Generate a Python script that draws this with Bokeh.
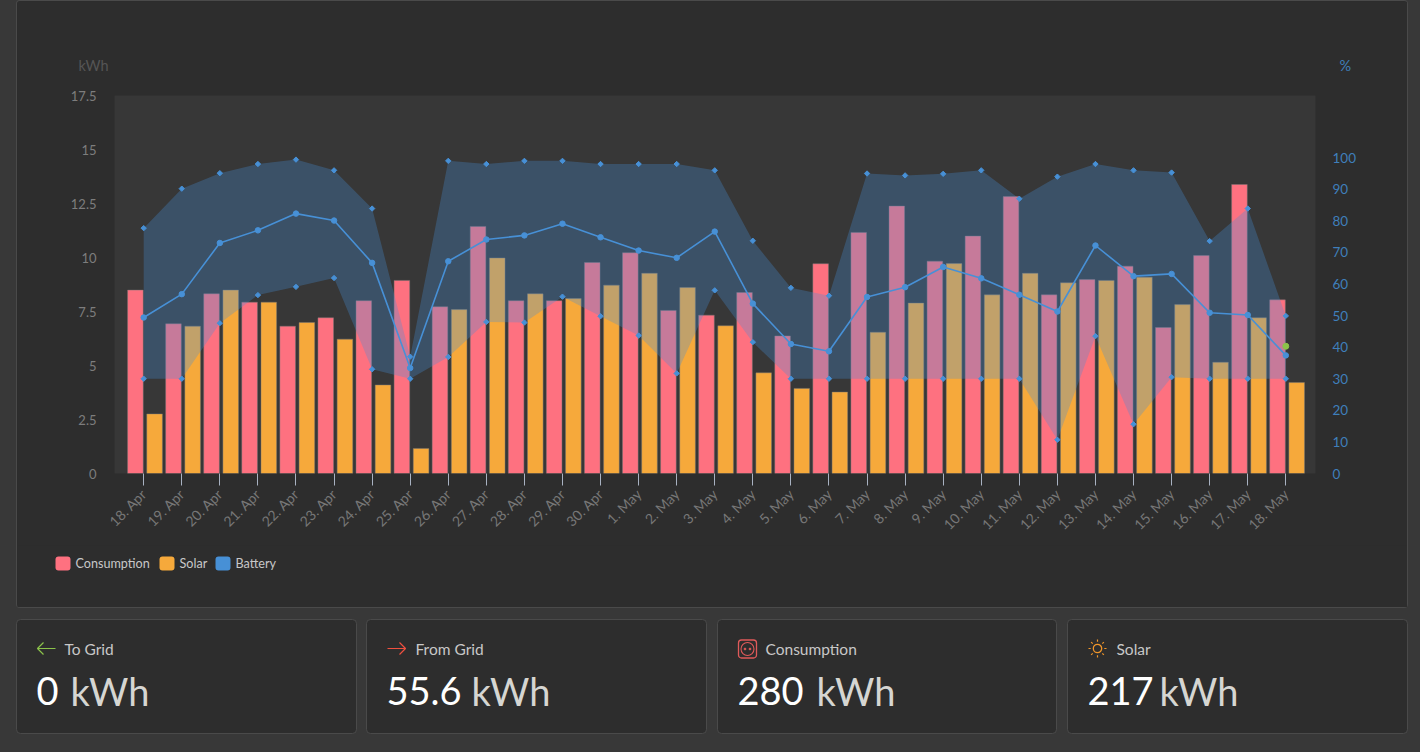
from bokeh.plotting import figure
from bokeh.embed import file_html
from bokeh.resources import INLINE
from bokeh.core.properties import value
from bokeh.layouts import column
from bokeh.models import (ColumnDataSource, Range1d, LinearAxis, FixedTicker, Label)
from bokeh.transform import dodge
import math

days = ["18. Apr", "19. Apr", "20. Apr", "21. Apr", "22. Apr", "23. Apr", "24. Apr", "25. Apr", "26. Apr",
        "27. Apr", "28. Apr", "29. Apr", "30. Apr", "1. May", "2. May", "3. May", "4. May", "5. May", "6. May",
        "7. May", "8. May", "9. May", "10. May", "11. May", "12. May", "13. May", "14. May", "15. May",
        "16. May", "17. May", "18. May"]
consumption = [8.49, 6.93, 8.32, 7.93, 6.82, 7.21, 8.0, 8.94, 7.72, 11.44, 8.0, 8.0, 9.77, 10.22, 7.55, 7.33,
               8.38, 6.37, 9.71, 11.16, 12.38, 9.83, 10.99, 12.82, 8.27, 8.98, 9.6, 6.76, 10.09, 13.38, 8.04]
solar = [2.76, 6.82, 8.49, 7.93, 6.99, 6.22, 4.1, 1.16, 7.59, 9.98, 8.32, 8.1, 8.72, 9.27, 8.61, 6.84,
         4.66, 3.94, 3.77, 6.54, 7.89, 9.72, 8.27, 9.27, 8.83, 8.94, 9.09, 7.82, 5.15, 7.21, 4.21]
battery_max = [77.7, 90.2, 95.1, 98, 99.4, 96, 83.9, 37, 99, 98, 99, 99, 98, 98, 98, 96, 73.7, 58.8, 56.3,
               95, 94.4, 94.9, 96, 87, 94, 98, 96, 95.3, 73.6, 83.9, 49.9]
battery_min = [30, 30, 47.6, 56.5, 59.1, 61.9, 33, 30, 36.9, 48, 47.8, 56, 49.8, 43.7, 31.7, 58, 41.6, 30, 30,
               30, 30, 30, 30, 30, 10.7, 43.5, 15.6, 30.5, 30, 30, 30]
battery_avg = [49.4, 56.8, 73, 77, 82.3, 80.1, 66.7, 33.4, 67.2, 74.1, 75.4, 79.1, 74.8, 70.6, 68.3, 76.6,
               53.8, 41, 38.7, 55.9, 59, 65.4, 61.8, 56.6, 51.3, 72.2, 62.5, 63.2, 50.9, 50.2, 37.4]
current_soc = [40.3]
kwh_ticks = [0, 2.5, 5, 7.5, 10, 12.5, 15, 17.5]
kwh_labels = ["0", "2.5", "5", "7.5", "10", "12.5", "15", "17.5"]
pct_ticks = [0, 10, 20, 30, 40, 50, 60, 70, 80, 90, 100]
legend_names = ["Consumption", "Solar", "Battery"]

cards = [("To Grid", "0", "kWh"), ("From Grid", "55.6", "kWh"), ("Consumption", "280", "kWh"), ("Solar", "217", "kWh")]

PAGE = "#383838"
PANEL = "#2d2d2d"
EDGE = "#4a4a4a"
FRAME = "#373737"
RED = "#fe7180"
ORANGE = "#f6a93b"
BLUE = "#4790d6"
FONT = "Lato"

idx = list(range(len(days)))
src = ColumnDataSource(dict(i=idx, con=consumption, sol=solar, hi=battery_max, lo=battery_min, avg=battery_avg))

p = figure(width=1390, height=544, output_backend="svg", toolbar_location=None,
           x_range=Range1d(-0.767, 30.78), y_range=Range1d(0, 17.5),
           min_border_left=97, min_border_right=92, min_border_top=94, min_border_bottom=72,
           background_fill_color=FRAME, border_fill_color=PANEL, outline_line_color=None,
           frame_align=False)
p.grid.visible = False
p.extra_y_ranges["pct"] = Range1d(0, 119.7)

xa = p.xaxis[0]
xa.ticker = FixedTicker(ticks=idx)
xa.major_label_overrides = {i: d for i, d in zip(idx, days)}
xa.major_label_orientation = math.pi / 4
xa.major_label_text_color = "#777777"
xa.major_label_text_font = FONT
xa.major_label_text_font_size = "14px"
xa.major_label_standoff = 6
xa.major_tick_out = 12
xa.major_tick_in = 0
xa.major_tick_line_color = "#a9b2c2"
xa.minor_tick_line_color = None
xa.axis_line_color = None

ya = p.yaxis[0]
ya.ticker = FixedTicker(ticks=kwh_ticks)
ya.major_label_overrides = {t: s for t, s in zip(kwh_ticks, kwh_labels)}
ya.major_label_text_color = "#7d7d7d"
ya.major_label_text_font = FONT
ya.major_label_text_font_size = "13px"
ya.major_label_standoff = 18
ya.major_tick_out = 0
ya.major_tick_in = 0
ya.major_tick_line_color = None
ya.minor_tick_line_color = None
ya.axis_line_color = None

ra = LinearAxis(y_range_name="pct", ticker=FixedTicker(ticks=pct_ticks))
ra.major_label_text_color = "#3f7fbb"
ra.major_label_text_font = FONT
ra.major_label_text_font_size = "13.5px"
ra.major_label_text_align = "center"
ra.major_label_standoff = 17
ra.major_tick_out = 0
ra.major_tick_in = 0
ra.major_tick_line_color = None
ra.minor_tick_line_color = None
ra.axis_line_color = None
p.add_layout(ra, "right")

bar_w = 0.41
p.vbar(x=dodge("i", -0.218, range=p.x_range), top="con", width=bar_w, source=src,
       fill_color=RED, line_color="#777777", line_alpha=0.45)
p.vbar(x=dodge("i", 0.286, range=p.x_range), top="sol", width=bar_w, source=src,
       fill_color=ORANGE, line_color="#777777", line_alpha=0.45)
p.varea(x="i", y1="lo", y2="hi", source=src, y_range_name="pct", fill_color=BLUE, fill_alpha=0.3)
p.line(x="i", y="avg", source=src, y_range_name="pct", line_color=BLUE, line_width=1.6)
p.scatter(x="i", y="hi", source=src, y_range_name="pct", marker="square", angle=math.pi / 4, size=3.8, color=BLUE)
p.scatter(x="i", y="lo", source=src, y_range_name="pct", marker="square", angle=math.pi / 4, size=3.8, color=BLUE)
p.scatter(x="i", y="avg", source=src, y_range_name="pct", marker="circle", size=5.5, color=BLUE)
p.scatter(x=[idx[-1]], y=current_soc, y_range_name="pct", marker="circle", size=6, color="#8bc34a")

p.add_layout(Label(x=61, y=72, x_units="canvas", y_units="canvas", text="kWh", text_font=FONT,
                   text_font_size="14.5px", text_color="#555555"), "above")
p.add_layout(Label(x=1322, y=72, x_units="canvas", y_units="canvas", text="%", text_font=FONT,
                   text_font_size="14.5px", text_color="#3f7fbb"), "above")

# legend strip, inside the chart panel: page pixels as data units
r = figure(width=1390, height=62, output_backend="svg", toolbar_location=None,
           x_range=Range1d(17, 1407), y_range=Range1d(607, 545), min_border=0,
           background_fill_color=PANEL, border_fill_color=PANEL, outline_line_color=None, frame_align=False)
r.axis.visible = False
r.grid.visible = False
swatch_left = [55, 159, 215]
for name, col, left in zip(legend_names, [RED, ORANGE, BLUE], swatch_left):
    r.quad(left=[left], right=[left + 15], top=[556], bottom=[570], fill_color=col, line_color=None, border_radius=3)
    r.text(x=[left + 20], y=[563], text=[name], text_font=value(FONT), text_font_size="12.6px",
           text_color="#c8c8c8", text_baseline="middle")

inner = column(p, r, spacing=0, margin=1, styles={"background-color": PANEL, "border-radius": "3px"})
chart_panel = column(inner, margin=(0, 0, 0, 16),
                     styles={"background-color": EDGE, "border-radius": "4px", "overflow": "hidden"})

# lower strip: page pixels as data units
q = figure(width=1420, height=144, output_backend="svg", toolbar_location=None,
           x_range=Range1d(0, 1420), y_range=Range1d(752, 608),
           min_border=0, background_fill_color=PAGE, border_fill_color=PAGE, outline_line_color=None,
           frame_align=False)
q.axis.visible = False
q.grid.visible = False

card_left = [16, 366, 717, 1067]
card_right = [356, 706, 1056, 1407]
title_x = [64, 415, 765, 1116]
num_x = [36, 386, 737, 1087]
unit_x = [70, 471, 816, 1159]
CY = 648
for k, (title, num, unit) in enumerate(cards):
    q.quad(left=[card_left[k]], right=[card_right[k]], top=[619], bottom=[733],
           fill_color=PANEL, line_color=EDGE, line_width=1, border_radius=4)
    q.text(x=[title_x[k]], y=[CY], text=[title], text_font=value(FONT), text_font_size="15.5px",
           text_color="#c8c8c8", text_baseline="middle")
    q.text(x=[num_x[k]], y=[690], text=[num], text_font=value(FONT), text_font_size="38px",
           text_color="#ffffff", text_baseline="middle")
    q.text(x=[unit_x[k]], y=[690], text=[unit], text_font=value(FONT), text_font_size="38px",
           text_color="#d6d6d2", text_baseline="middle")

# icons
q.multi_line(xs=[[37, 55], [43, 37, 43]], ys=[[648, 648], [642, 648, 654]], line_color="#8bc34a", line_width=1.2)
q.multi_line(xs=[[387, 405], [399, 405, 399]], ys=[[648, 648], [642, 648, 654]], line_color="#f0503f", line_width=1.2)
q.rect(x=[747], y=[648.5], width=[18], height=[18], fill_alpha=0,
       line_color="#e05a5a", line_width=1.3, border_radius=3)
q.circle(x=[747], y=[648.5], radius=[6.5], fill_alpha=0, line_color="#e05a5a", line_width=1.1)
q.circle(x=[744.5, 749.5], y=[648.5, 648.5], radius=[0.9, 0.9], color="#e05a5a")
q.circle(x=[1097], y=[648], radius=[4.2], fill_alpha=0, line_color="#f0962a", line_width=1.3)
sun_x, sun_y = [], []
for a in range(8):
    t = a * math.pi / 4
    sun_x.append([1097 + 6.8 * math.cos(t), 1097 + 9 * math.cos(t)])
    sun_y.append([648 + 6.8 * math.sin(t), 648 + 9 * math.sin(t)])
q.multi_line(xs=sun_x, ys=sun_y, line_color="#f0962a", line_width=1.2)

layout = column(chart_panel, q, spacing=0)
html = file_html(layout, INLINE)
html = html.replace("</head>", "<style>html,body{margin:0;background:%s;overflow:hidden}</style></head>" % PAGE)
open("out.html", "w").write(html)
